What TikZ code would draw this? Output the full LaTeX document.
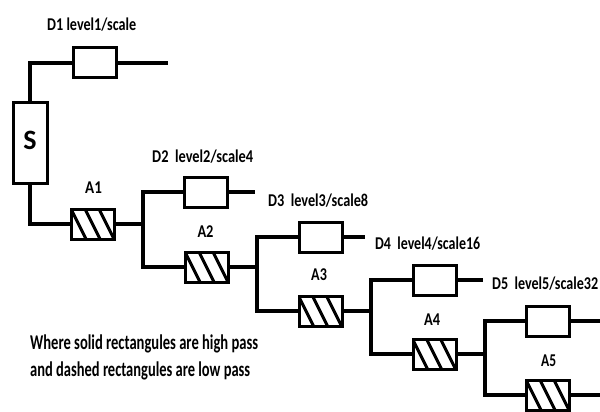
\documentclass[tikz,border=0pt]{standalone}
\usepackage{fontspec}
\setmainfont{Carlito}
\usepackage{graphicx}
\tikzset{
  wire/.style={line width=3.3pt},
  hp/.style={draw, line width=3pt, minimum width=43pt, minimum height=30pt, inner sep=0pt, fill=white},
  lp/.style={hp, path picture={
      \foreach \k in {0,1,2}{
        \draw[line width=3pt] ([xshift={(-0.5+14*\k)*1pt}]path picture bounding box.north west)
          -- ([xshift={(14.5+14*\k)*1pt}]path picture bounding box.south west);
      }}},
  lbl/.style={anchor=base west, inner sep=0pt, font=\fontsize{18}{21}\selectfont\bfseries},
  legend/.style={anchor=base west, inner sep=0pt, font=\fontsize{21}{24}\selectfont\bfseries},
}
\begin{document}
\begin{tikzpicture}[x=1pt,y=-1pt]
\useasboundingbox (0,0) rectangle (600,412);
% boxes
\node[draw, line width=3pt, minimum width=34pt, minimum height=81pt, inner sep=0pt,
      font=\fontsize{28}{32}\selectfont\bfseries] (S) at (30,143) {\raisebox{5pt}{S}};
\node[hp] (D1) at (95,63) {};
\node[lp] (A1) at (93,224) {};
\node[hp] (D2) at (206,192) {};
\node[lp] (A2) at (207,267) {};
\node[hp] (D3) at (320.5,237) {};
\node[lp] (A3) at (320.5,311) {};
\node[hp] (D4) at (434.5,280) {};
\node[lp] (A4) at (434.5,354) {};
\node[hp] (D5) at (548,321) {};
\node[lp] (A5) at (548,395) {};
% junctions and free ends
\coordinate (j1) at (143,224);
\coordinate (j2) at (257,267);
\coordinate (j3) at (371,311);
\coordinate (j4) at (485,354);
\coordinate (e1) at (168,63);
\coordinate (e2) at (255,192);
\coordinate (e3) at (365,237);
\coordinate (e4) at (483,280);
\coordinate (e5) at (600,321);
\coordinate (e6) at (600,395);
% connectors
\draw[wire] (S.north) |- (D1.west);
\draw[wire] (D1.east) -- (e1);
\draw[wire] (S.south) |- (A1.west);
\draw[wire] (A1.east) -- (j1);
\draw[wire] (D2.west) -| (j1) |- (A2.west);
\draw[wire] (D2.east) -- (e2);
\draw[wire] (A2.east) -- (j2);
\draw[wire] (D3.west) -| (j2) |- (A3.west);
\draw[wire] (D3.east) -- (e3);
\draw[wire] (A3.east) -- (j3);
\draw[wire] (D4.west) -| (j3) |- (A4.west);
\draw[wire] (D4.east) -- (e4);
\draw[wire] (A4.east) -- (j4);
\draw[wire] (D5.west) -| (j4) |- (A5.west);
\draw[wire] (D5.east) -- (e5);
\draw[wire] (A5.east) -- (e6);
% labels
\node[lbl] (tD1) at (47,30.7) {\resizebox{89pt}{\height}{D1 level1/scale}};
\node[lbl] (tD2) at (152,162.3) {\resizebox{101pt}{\height}{D2~~level2/scale4}};
\node[lbl] (tD3) at (268,206.7) {\resizebox{100pt}{\height}{D3~~level3/scale8}};
\node[lbl] (tD4) at (375,249) {\resizebox{105pt}{\height}{D4~~level4/scale16}};
\node[lbl] (tD5) at (492,289.3) {\resizebox{106pt}{\height}{D5~~level5/scale32}};
\node[lbl] (tA1) at (85,193.3) {\resizebox{16.7pt}{\height}{A1}};
\node[lbl] (tA2) at (197.3,237.3) {\resizebox{16pt}{\height}{A2}};
\node[lbl] (tA3) at (311,280) {\resizebox{15.7pt}{\height}{A3}};
\node[lbl] (tA4) at (424,325) {\resizebox{16pt}{\height}{A4}};
\node[lbl] (tA5) at (541,366) {\resizebox{15pt}{\height}{A5}};
\node[legend] (leg1) at (30,349.3) {\resizebox{228pt}{\height}{Where solid rectangules are high pass}};
\node[legend] (leg2) at (30,376.7) {\resizebox{220pt}{\height}{and dashed rectangules are low pass}};
\end{tikzpicture}
\end{document}
